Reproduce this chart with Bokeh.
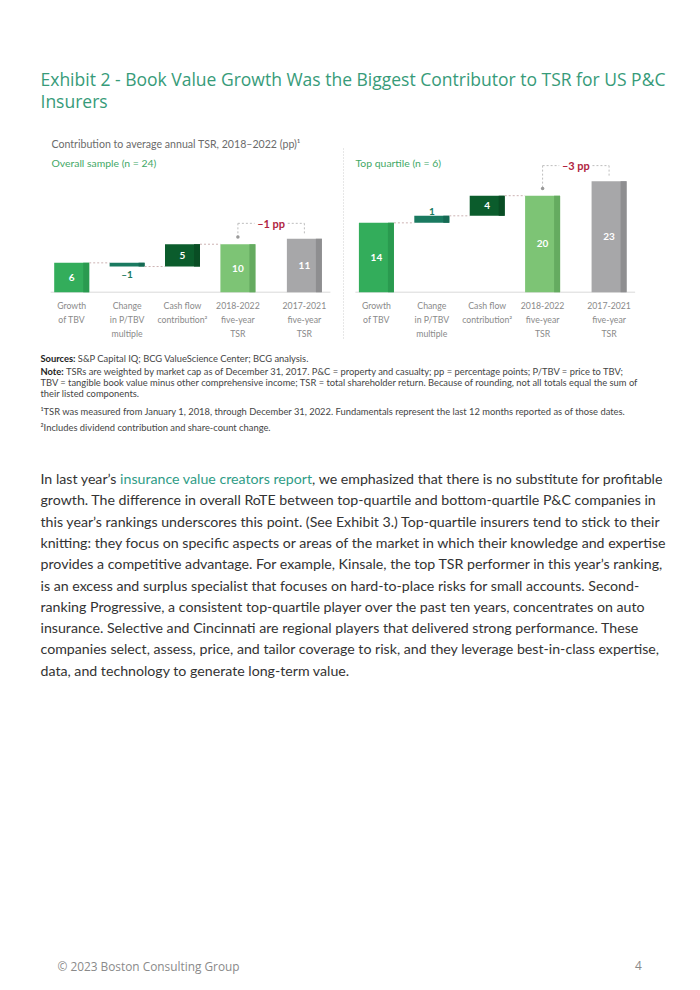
import os
import glob
import numpy as np
from bokeh.plotting import figure
from bokeh.models import Range1d
from bokeh.core.properties import value
from bokeh.embed import file_html
from bokeh.resources import INLINE

try:
    from PIL import ImageFont
except Exception:  # pragma: no cover
    ImageFont = None

# ------------------------------------------------------------------ data
categories = ["Growth\nof TBV", "Change\nin P/TBV\nmultiple", "Cash flow\ncontribution²",
              "2018-2022\nfive-year\nTSR", "2017-2021\nfive-year\nTSR"]
# growth of TBV, change in multiple, cash flow, 2018-2022 TSR, 2017-2021 TSR
overall_values = [6.05, -0.76, 4.6, 9.9, 11.0]
overall_labels = ["6", "–1", "5", "10", "11"]
top_values = [14.3, 1.45, 4.15, 19.9, 22.9]
top_labels = ["14", "1", "4", "20", "23"]
gap_labels = ["–1 pp", "–3 pp"]
panel_titles = ["Overall sample (n = 24)", "Top quartile (n = 6)"]

title_lines = ["Exhibit 2 - Book Value Growth Was the Biggest Contributor to TSR for US P&C",
               "Insurers"]
chart_caption = "Contribution to average annual TSR, 2018–2022 (pp)¹"

sources_head, sources_text = "Sources:", "S&P Capital IQ; BCG ValueScience Center; BCG analysis."
note_head = "Note:"
note_lines = ["TSRs are weighted by market cap as of December 31, 2017. P&C = property and casualty; pp = percentage points; P/TBV = price to TBV;",
              "TBV = tangible book value minus other comprehensive income; TSR = total shareholder return. Because of rounding, not all totals equal the sum of",
              "their listed components."]
footnotes = ["¹TSR was measured from January 1, 2018, through December 31, 2022. Fundamentals represent the last 12 months reported as of those dates.",
             "²Includes dividend contribution and share-count change."]

body_first = ["In last year’s ", "insurance value creators report",
              ", we emphasized that there is no substitute for profitable"]
body_lines = [
    "growth. The difference in overall RoTE between top-quartile and bottom-quartile P&C companies in",
    "this year’s rankings underscores this point. (See Exhibit 3.) Top-quartile insurers tend to stick to their",
    "knitting: they focus on specific aspects or areas of the market in which their knowledge and expertise",
    "provides a competitive advantage. For example, Kinsale, the top TSR performer in this year’s ranking,",
    "is an excess and surplus specialist that focuses on hard-to-place risks for small accounts. Second-",
    "ranking Progressive, a consistent top-quartile player over the past ten years, concentrates on auto",
    "insurance. Selective and Cincinnati are regional players that delivered strong performance. These",
    "companies select, assess, price, and tailor coverage to risk, and they leverage best-in-class expertise,",
    "data, and technology to generate long-term value.",
]
footer_text = "© 2023 Boston Consulting Group"
page_number = "4"

# ------------------------------------------------------------------ styles
bar_colors = ["#33ad5b", "#1a7a60", "#0b5c2c", "#7dc475", "#a7a7a9"]
stripe_colors = ["#2a9a4f", "#156a53", "#094d24", "#65ab60", "#8e8e90"]
TITLE_COLOR = "#379b79"
SUB_COLOR = "#42a866"
RED = "#b0243f"
LINK = "#2f9c86"

TITLE_FONT = "Open Sans"
BODY_FONT = "Lato"
CHART_FONT = "Lato"

# ------------------------------------------------------------------ font metrics
FONT_FILES = []
for d in ["/usr/share/fonts", "/usr/local/share/fonts",
          os.path.expanduser("~/.fonts"), os.path.expanduser("~/.local/share/fonts")]:
    for ext in ("ttf", "otf", "ttc", "TTF", "OTF"):
        FONT_FILES += glob.glob(os.path.join(d, "**", "*." + ext), recursive=True)


def _norm(s):
    return "".join(ch for ch in s.lower() if ch.isalnum())


def find_font(family, bold=False):
    key = _norm(family)
    best, best_score = None, 0
    for f in FONT_FILES:
        n = _norm(os.path.splitext(os.path.basename(f))[0])
        if not n.startswith(key):
            continue
        rest = n[len(key):]
        score = 0
        if bold and rest == "bold":
            score = 10
        elif (not bold) and rest == "regular":
            score = 10
        elif (not bold) and rest == "":
            score = 8
        elif rest.startswith("wdth") or rest.startswith("wght"):
            score = 5
        if score > best_score:
            best, best_score = f, score
    return best


_font_cache = {}


def text_width(text, family, size, bold=False):
    k = (family, bold)
    if k not in _font_cache:
        f = None
        path = find_font(family, bold)
        if path and ImageFont is not None:
            try:
                f = ImageFont.truetype(path, 100)
                if bold and "wght" in _norm(os.path.basename(path)):
                    try:
                        f.set_variation_by_name("Bold")
                    except Exception:
                        pass
            except Exception:
                f = None
        _font_cache[k] = f
    f = _font_cache[k]
    if f is not None:
        try:
            return f.getlength(text) * size / 100.0
        except Exception:
            pass
    return len(text) * size * (0.56 if bold else 0.5)


def fit(text, family, width, bold=False):
    return round(width / text_width(text, family, 1.0, bold), 2)


# ------------------------------------------------------------------ layout constants
U = 55.4        # px per category step
X0 = 71.2       # px of first bar centre
S = 4.85        # px per percentage point
BASE = 291.7    # px of the zero line
pos_local = np.array([0.0, 1.0, 2.0, 3.0, 4.2])
panel_offsets = [0.0, 5.5]
BAR_W = 35.0 / U
STRIPE_W = 6.0 / U

p = figure(width=700, height=990, x_range=Range1d(0, 700), y_range=Range1d(990, 0),
           toolbar_location=None, output_backend="svg", min_border=0,
           x_axis_location=None, y_axis_location=None, outline_line_color=None,
           background_fill_color="white", border_fill_color="white")
p.grid.visible = False
p.extra_x_ranges = {"cat": Range1d(-X0 / U, (700 - X0) / U)}
p.extra_y_ranges = {"pp": Range1d((BASE - 990) / S, BASE / S)}

CR = dict(x_range_name="cat", y_range_name="pp")

# ------------------------------------------------------------------ header
title_size = fit(title_lines[0], TITLE_FONT, 624)
p.text(x=[40, 40], y=[78, 100], text=title_lines, text_font=value(TITLE_FONT),
       text_font_size=f"{title_size}px", text_color=TITLE_COLOR,
       text_baseline="middle", text_align="left")

cap_size = fit(chart_caption, CHART_FONT, 249)
p.text(x=[51], y=[143], text=[chart_caption], text_font=value(CHART_FONT),
       text_font_size=f"{cap_size}px", text_color="#6b6b6b",
       text_baseline="middle", text_align="left")

sub_size = fit(panel_titles[0], CHART_FONT, 105)
p.text(x=[51, 355], y=[162, 162], text=panel_titles, text_font=value(CHART_FONT),
       text_font_size=f"{sub_size}px", text_color=SUB_COLOR,
       text_baseline="middle", text_align="left")

# dotted separator between the panels
p.segment(x0=[343], x1=[343], y0=[148], y1=[338], line_color="#cfcfcf",
          line_width=1, line_dash="1 2")

lab_size = fit("contribution²", CHART_FONT, 50)
val_size = 10


def draw_panel(vals, labels, offset, gap_label):
    x = pos_local + offset
    vals = np.asarray(vals, dtype=float)
    steps = vals[:3]
    cum = np.concatenate([[0.0], np.cumsum(steps)])
    bottoms = np.concatenate([np.minimum(cum[:-1], cum[1:]), [0.0, 0.0]])
    tops = np.concatenate([np.maximum(cum[:-1], cum[1:]), vals[3:]])

    # zero line
    p.segment(x0=[x[0] - 0.38], x1=[x[-1] + 0.47], y0=[0], y1=[0],
              line_color="#d9d9d9", line_width=1, **CR)
    # bars + darker right edge
    p.quad(left=x - BAR_W / 2, right=x + BAR_W / 2, bottom=bottoms, top=tops,
           fill_color=bar_colors, line_color=None, **CR)
    p.quad(left=x + BAR_W / 2 - STRIPE_W, right=x + BAR_W / 2, bottom=bottoms, top=tops,
           fill_color=stripe_colors, line_color=None, **CR)
    # connectors
    p.segment(x0=x[:3] + BAR_W / 2, x1=x[1:4] - BAR_W / 2, y0=cum[1:4], y1=cum[1:4],
              line_color="#cdb3b3", line_width=1, line_dash="2 2", **CR)
    # value labels inside bars
    inside = [0, 2, 3, 4]
    p.text(x=x[inside], y=(bottoms[inside] + tops[inside]) / 2,
           text=[labels[i] for i in inside], text_font=value(CHART_FONT),
           text_font_style="bold", text_font_size=f"{val_size}px", text_color="white",
           text_align="center", text_baseline="middle", **CR)
    # change label outside
    if steps[1] < 0:
        p.text(x=[x[1]], y=[bottoms[1] - 0.35], text=[labels[1]], text_font=value(CHART_FONT),
               text_font_style="bold", text_font_size=f"{val_size}px", text_color=bar_colors[1],
               text_align="center", text_baseline="top", **CR)
    else:
        p.text(x=[x[1]], y=[tops[1] + 0.25], text=[labels[1]], text_font=value(CHART_FONT),
               text_font_style="bold", text_font_size=f"{val_size}px", text_color=bar_colors[1],
               text_align="center", text_baseline="bottom", **CR)
    # bracket between the two TSR bars
    level = max(tops[3], tops[4]) + 3.2
    mid = (x[3] + x[4]) / 2
    p.segment(x0=[x[3], mid + 0.3, x[3], x[4]], x1=[mid - 0.3, x[4], x[3], x[4]],
              y0=[level, level, level, level], y1=[level, level, tops[3] + 1.5, tops[4] + 0.8],
              line_color="#bdbdbd", line_width=1, line_dash="2 2", **CR)
    p.scatter(x=[x[3]], y=[tops[3] + 1.5], marker="circle", size=3.5,
              fill_color="#9a9a9a", line_color=None, **CR)
    p.text(x=[mid], y=[level], text=[gap_label], text_font=value(CHART_FONT),
           text_font_style="bold", text_font_size="11px", text_color=RED,
           text_align="center", text_baseline="middle", **CR)
    # category labels
    p.text(x=x, y=[299.5] * 5, text=categories, text_font=value(CHART_FONT),
           text_font_size=f"{lab_size}px", text_color="#8a8a8a", text_line_height=1.25,
           text_align="center", text_baseline="top", x_range_name="cat")


draw_panel(overall_values, overall_labels, panel_offsets[0], gap_labels[0])
draw_panel(top_values, top_labels, panel_offsets[1], gap_labels[1])

# ------------------------------------------------------------------ notes
note_size = fit(note_lines[1], CHART_FONT, 597)
NCOL = "#454545"


def head_and_text(y, head, text):
    p.text(x=[40], y=[y], text=[head], text_font=value(CHART_FONT), text_font_style="bold",
           text_font_size=f"{note_size}px", text_color="#222222",
           text_baseline="middle", text_align="left")
    w = text_width(head + " ", CHART_FONT, note_size, bold=True)
    p.text(x=[40 + w], y=[y], text=[text], text_font=value(CHART_FONT),
           text_font_size=f"{note_size}px", text_color=NCOL,
           text_baseline="middle", text_align="left")


head_and_text(358, sources_head, sources_text)
head_and_text(371, note_head, note_lines[0])
p.text(x=[40, 40, 40, 40], y=[382, 393, 411, 427], text=note_lines[1:] + footnotes,
       text_font=value(CHART_FONT), text_font_size=f"{note_size}px", text_color=NCOL,
       text_baseline="middle", text_align="left")

# ------------------------------------------------------------------ body text
first_line = "".join(body_first)
body_size = fit(first_line, BODY_FONT, 622)
BCOL = "#333333"
y_body = [478 + 21.3 * i for i in range(len(body_lines) + 1)]
w0 = text_width(body_first[0], BODY_FONT, body_size)
w1 = text_width(body_first[1], BODY_FONT, body_size)
p.text(x=[40, 40 + w0 + w1], y=[y_body[0], y_body[0]], text=[body_first[0], body_first[2]],
       text_font=value(BODY_FONT), text_font_size=f"{body_size}px", text_color=BCOL,
       text_baseline="middle", text_align="left")
p.text(x=[40 + w0], y=[y_body[0]], text=[body_first[1]],
       text_font=value(BODY_FONT), text_font_size=f"{body_size}px", text_color=LINK,
       text_baseline="middle", text_align="left")
p.text(x=[40] * len(body_lines), y=y_body[1:], text=body_lines,
       text_font=value(BODY_FONT), text_font_size=f"{body_size}px", text_color=BCOL,
       text_baseline="middle", text_align="left")

# ------------------------------------------------------------------ footer
foot_size = fit(footer_text, TITLE_FONT, 182)
p.text(x=[57], y=[965], text=[footer_text], text_font=value(TITLE_FONT),
       text_font_size=f"{foot_size}px", text_color="#8a8a8a",
       text_baseline="middle", text_align="left")
p.text(x=[638], y=[965], text=[page_number], text_font=value(TITLE_FONT),
       text_font_size=f"{foot_size}px", text_color="#8a8a8a",
       text_baseline="middle", text_align="center")

open("out.html", "w").write(file_html(p, INLINE))
